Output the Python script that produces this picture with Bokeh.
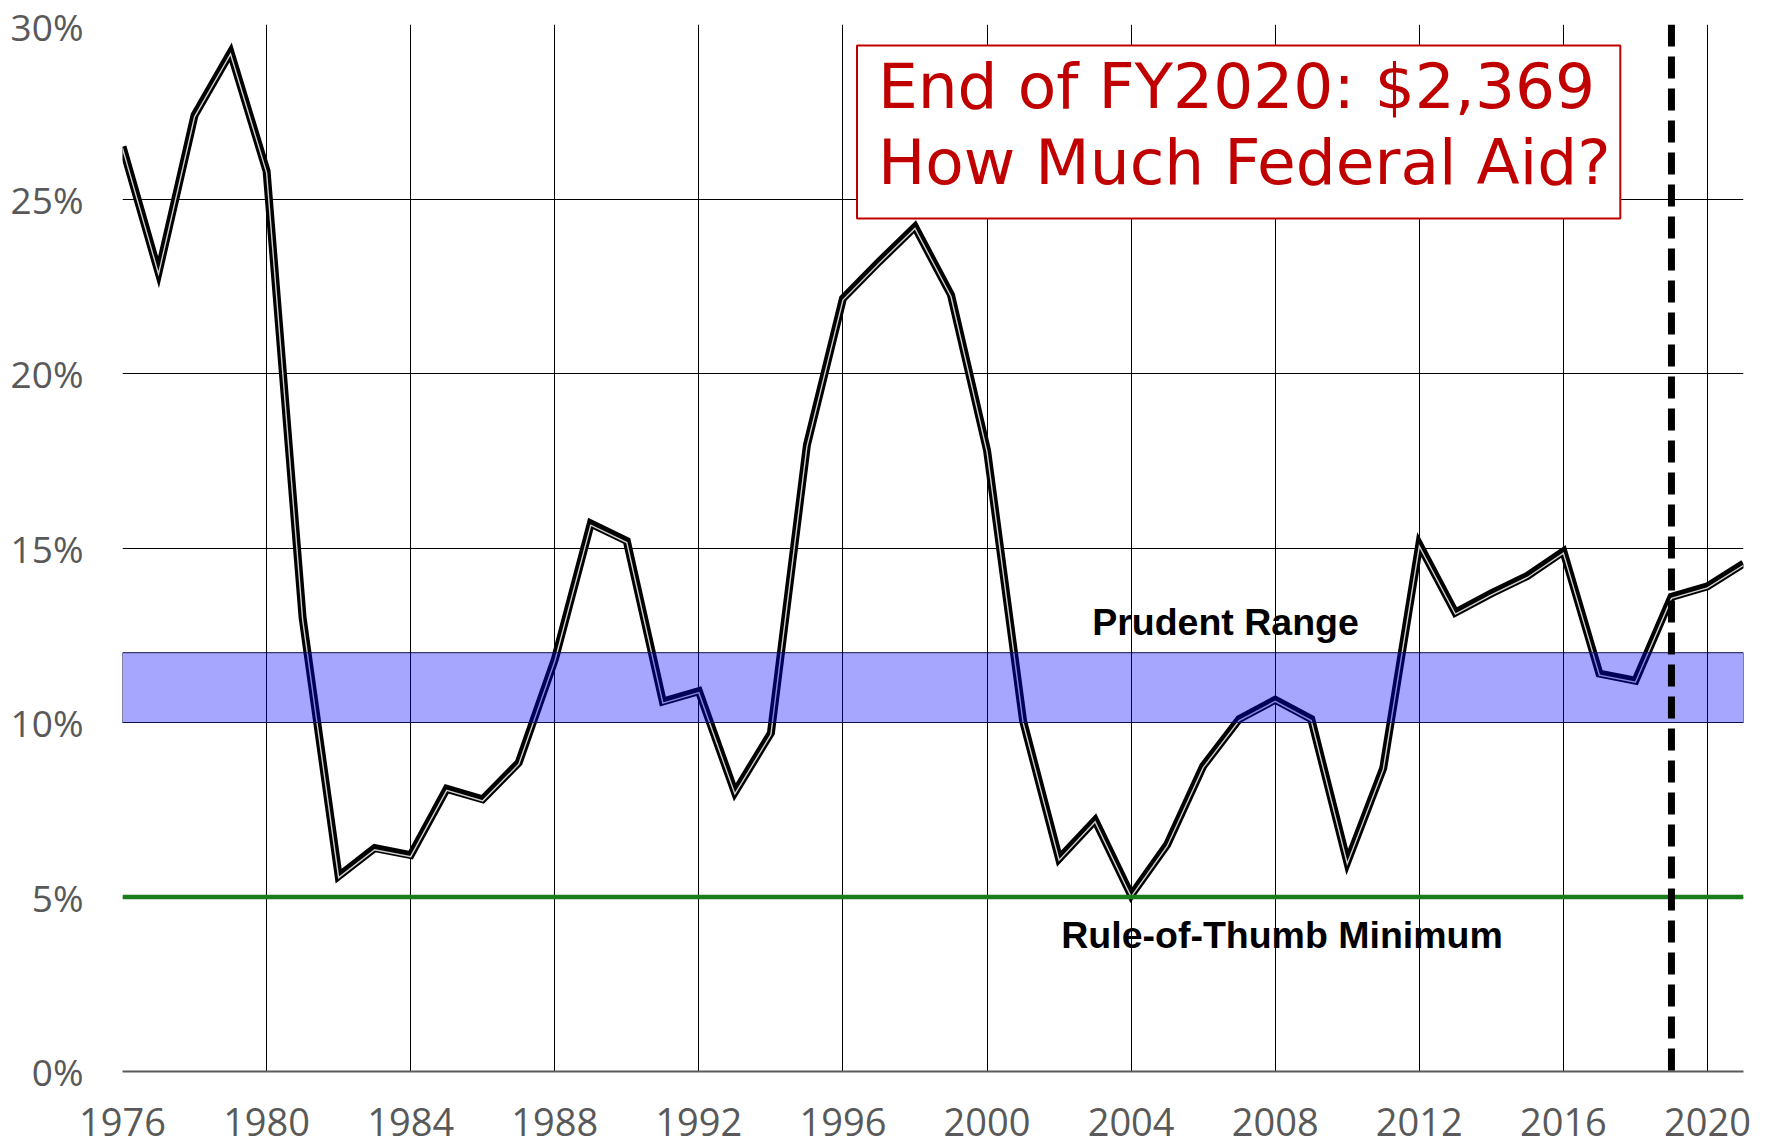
from bokeh.plotting import figure
from bokeh.models import (Range1d, FixedTicker, PrintfTickFormatter, BoxAnnotation,
                          Span, Label, ColumnDataSource)
from bokeh.transform import dodge
from bokeh.embed import file_html
from bokeh.resources import INLINE

years = list(range(1976, 2022))
reserve_pct = [26.5, 22.9, 27.4, 29.2, 25.8, 13.0, 5.6, 6.4, 6.2, 8.1,
               7.8, 8.85, 11.8, 15.7, 15.2, 10.6, 10.9, 8.0, 9.7, 17.95,
               22.15, 23.2, 24.2, 22.25, 17.8, 10.05, 6.1, 7.2, 5.05, 6.5,
               8.75, 10.1, 10.65, 10.1, 6.0, 8.7, 15.1, 13.15, 13.7, 14.2,
               14.9, 11.4, 11.2, 13.6, 13.9, 14.55]
x_ticks = list(range(1976, 2021, 4))
y_ticks = [0, 5, 10, 15, 20, 25, 30]
prudent_low, prudent_high = 10, 12
rule_min = 5
fy_marker = 2019

src = ColumnDataSource(dict(year=years, pct=reserve_pct))

p = figure(width=1768, height=1146, output_backend="svg", toolbar_location=None,
           x_range=Range1d(1976, 2021), y_range=Range1d(0, 30),
           min_border_left=122, min_border_right=25, min_border_top=24,
           min_border_bottom=75)
p.outline_line_color = None
p.background_fill_color = "white"

for ax in (p.xaxis[0], p.yaxis[0]):
    ax.major_tick_line_color = None
    ax.minor_tick_line_color = None
    ax.major_label_text_font = "Open Sans"
    ax.major_label_text_color = "#595959"

p.xaxis.major_label_text_font_size = "38px"
p.yaxis.major_label_text_font_size = "37px"
p.xaxis.ticker = FixedTicker(ticks=x_ticks)
p.yaxis.ticker = FixedTicker(ticks=y_ticks)
p.yaxis.formatter = PrintfTickFormatter(format="%d%%")
p.xaxis.axis_line_color = "#595959"
p.xaxis.axis_line_width = 2
p.yaxis.axis_line_color = None
p.xaxis.major_label_standoff = 30
p.yaxis.major_label_standoff = 33

p.xgrid.ticker = FixedTicker(ticks=x_ticks)
p.ygrid.ticker = FixedTicker(ticks=y_ticks)
p.xgrid.grid_line_color = "black"
p.ygrid.grid_line_color = "black"
p.xgrid.grid_line_width = 1
p.ygrid.grid_line_width = 1

# double-stroke series line: heavy black with a thin light inner stroke set slightly low
p.line("year", "pct", source=src, line_color="black", line_width=8, line_join="miter")
p.line("year", dodge("pct", -0.045, range=p.y_range), source=src,
       line_color="#cfcfcf", line_width=1.4, line_join="miter")

band = BoxAnnotation(bottom=prudent_low, top=prudent_high, fill_color="blue",
                     fill_alpha=0.35, line_color="#10104a", line_alpha=1.0, line_width=1)
p.add_layout(band)

p.add_layout(Span(location=rule_min, dimension="width", line_color="#1a7d1a",
                  line_width=4.5))
p.add_layout(Span(location=fy_marker, dimension="height", line_color="black",
                  line_width=7, line_dash="22 10"))

box = BoxAnnotation(left=1996.39, right=2017.58, bottom=24.44, top=29.40,
                    fill_color="white", fill_alpha=1.0, line_color="#c00000",
                    line_alpha=1.0, line_width=2)
p.add_layout(box)

for txt, yy in [("End of FY2020: $2,369", 28.22), ("How Much Federal Aid?", 26.04)]:
    p.add_layout(Label(x=1996.97, y=yy, text=txt, text_font="DejaVu Sans",
                       text_font_size="63px", text_color="#c00000",
                       text_align="left", text_baseline="alphabetic"))

p.add_layout(Label(x=2006.62, y=12.87, text="Prudent Range", text_font="Liberation Sans",
                   text_font_style="bold", text_font_size="37.5px", text_color="black",
                   text_align="center", text_baseline="alphabetic"))
p.add_layout(Label(x=2008.19, y=3.92, text="Rule-of-Thumb Minimum",
                   text_font="Liberation Sans", text_font_style="bold",
                   text_font_size="37.5px", text_color="black",
                   text_align="center", text_baseline="alphabetic"))

open("out.html", "w").write(file_html(p, INLINE))
